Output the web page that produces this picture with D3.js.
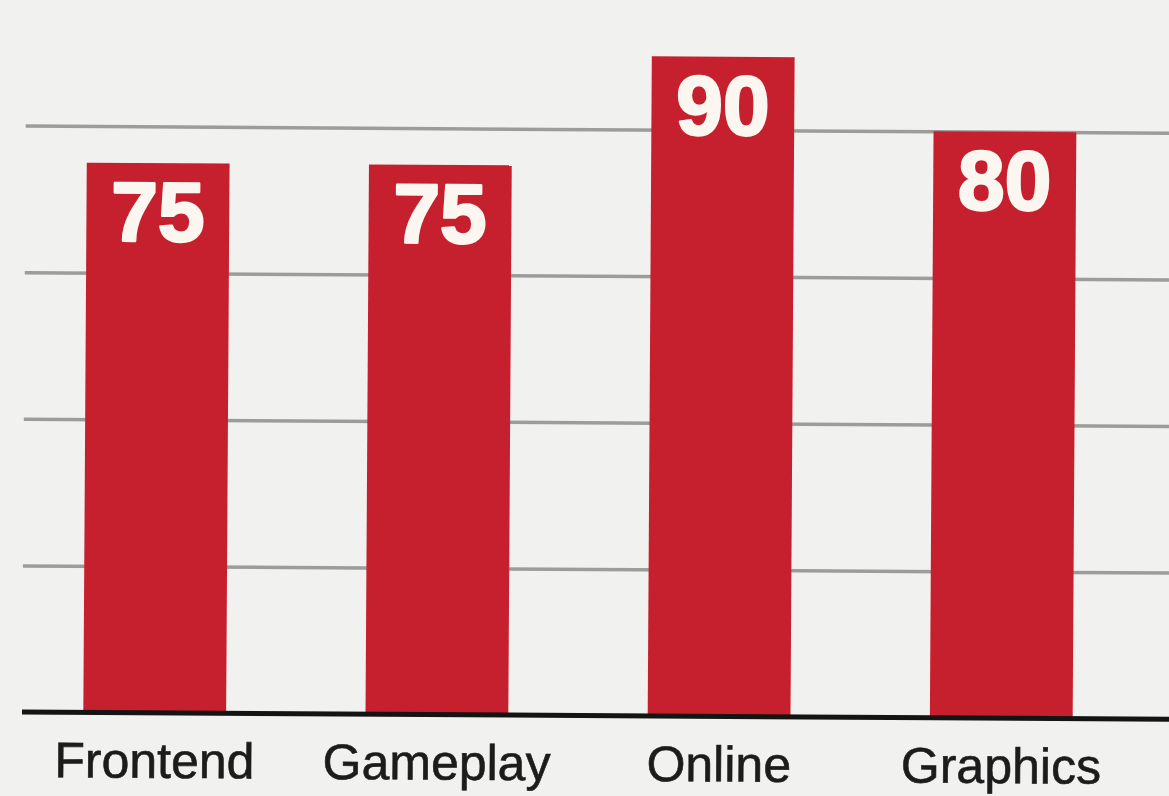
<!DOCTYPE html>
<html>
<head>
<meta charset="utf-8">
<script src="https://cdn.jsdelivr.net/npm/d3@7"></script>
<style>
  html, body { margin: 0; padding: 0; background: #f1f1ef; }
  svg { display: block; }
</style>
</head>
<body>
<svg id="chart" width="1169" height="796"></svg>
<script>
// Team scores by area
const categories = ["Frontend", "Gameplay", "Online", "Graphics"];
const scores = [75, 75, 90, 80];
const gridValues = [20, 40, 60, 80];

const W = 1169, H = 796;
const baseY = 712;
const svg = d3.select("#chart");

svg.append("rect").attr("width", W).attr("height", H).attr("fill", "#f1f1ef");

// printed page sits at a slight tilt
const g = svg.append("g").attr("transform", `rotate(0.36, 22, ${baseY})`);

const x = d3.scaleBand()
  .domain(categories)
  .range([41, 1115])
  .paddingInner(0.494)
  .paddingOuter(0.15);

const y = d3.scaleLinear().domain([0, 100]).range([baseY, baseY - 733]);

// horizontal grid
const yAxis = d3.axisLeft(y).tickValues(gridValues).tickSize(-(W + 20 - 22)).tickFormat("");
const grid = g.append("g").attr("transform", "translate(22,0)").call(yAxis);
grid.select(".domain").remove();
grid.selectAll(".tick line")
  .attr("stroke", "#9c9c9a")
  .attr("stroke-width", 3.5);

// bars
g.selectAll("rect.bar")
  .data(scores)
  .join("rect")
  .attr("class", "bar")
  .attr("x", (d, i) => x(categories[i]))
  .attr("y", d => y(d))
  .attr("width", x.bandwidth())
  .attr("height", d => y(0) - y(d))
  .attr("fill", "#c61f2d");

// value labels inside bar tops
g.selectAll("text.val")
  .data(scores)
  .join("text")
  .attr("class", "val")
  .attr("x", (d, i) => x(categories[i]) + x.bandwidth() / 2)
  .attr("y", d => y(d) + 78)
  .attr("text-anchor", "middle")
  .attr("fill", "#fbf6f0")
  .attr("stroke", "#fbf6f0")
  .attr("stroke-width", 2.5)
  .attr("stroke-linejoin", "round")
  .style("font-family", "'Liberation Sans', Arial, sans-serif")
  .style("font-weight", "bold")
  .style("font-size", "84px")
  .text(d => d);

// baseline axis with category labels
const xAxis = d3.axisBottom(x).tickSize(0).tickPadding(0);
const ax = g.append("g").attr("transform", `translate(0,${baseY})`).call(xAxis);
ax.select(".domain").remove();
ax.append("line")
  .attr("x1", 22).attr("x2", W + 20)
  .attr("y1", 0).attr("y2", 0)
  .attr("stroke", "#141414")
  .attr("stroke-width", 5);
ax.selectAll(".tick text")
  .attr("dy", 0)
  .attr("y", 65)
  .attr("fill", "#1c1c1c")
  .attr("stroke", "#1c1c1c")
  .attr("stroke-width", 0.6)
  .style("font-family", "'Liberation Sans', Arial, sans-serif")
  .style("font-size", "50px");
</script>
</body>
</html>
